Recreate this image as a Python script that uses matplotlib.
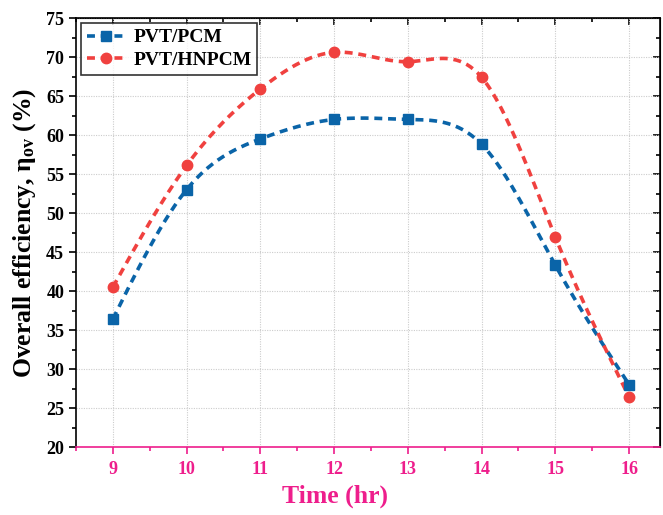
import numpy as np
import matplotlib
matplotlib.use("Agg")
import matplotlib.pyplot as plt
from matplotlib.ticker import MultipleLocator

plt.rcParams["font.family"] = ["Liberation Serif", "DejaVu Serif"]
plt.rcParams["font.weight"] = "bold"
plt.rcParams["mathtext.fontset"] = "custom"
plt.rcParams["mathtext.rm"] = "Liberation Serif:bold"
plt.rcParams["mathtext.it"] = "Liberation Serif:bold"

hours = [9, 10, 11, 12, 13, 14, 15, 16]
pvt_pcm = [36.4, 53.0, 59.5, 62.0, 62.0, 58.8, 43.3, 28.0]
pvt_hnpcm = [40.5, 56.1, 65.9, 70.6, 69.4, 67.4, 46.9, 26.4]

PINK = "#ee1e8c"
BLUE = "#0a64a8"
RED = "#f0413f"


def natural_spline(x, y, n=300):
    """Natural cubic spline through the points (smooth connector, like Origin)."""
    x = np.asarray(x, float)
    y = np.asarray(y, float)
    k = len(x)
    h = np.diff(x)
    A = np.zeros((k, k))
    b = np.zeros(k)
    A[0, 0] = A[-1, -1] = 1.0
    for i in range(1, k - 1):
        A[i, i - 1] = h[i - 1]
        A[i, i] = 2 * (h[i - 1] + h[i])
        A[i, i + 1] = h[i]
        b[i] = 3 * ((y[i + 1] - y[i]) / h[i] - (y[i] - y[i - 1]) / h[i - 1])
    c = np.linalg.solve(A, b)
    xs = np.linspace(x[0], x[-1], n)
    idx = np.clip(np.searchsorted(x, xs) - 1, 0, k - 2)
    dx = xs - x[idx]
    bb = (y[idx + 1] - y[idx]) / h[idx] - h[idx] * (2 * c[idx] + c[idx + 1]) / 3
    dd = (c[idx + 1] - c[idx]) / (3 * h[idx])
    ys = y[idx] + bb * dx + c[idx] * dx ** 2 + dd * dx ** 3
    return xs, ys


fig = plt.figure(figsize=(6.63, 5.15), dpi=100)
ax = fig.add_axes([0.1146, 0.132, 0.881, 0.833])

for vals, col, mk, lab in [(pvt_pcm, BLUE, "s", "PVT/PCM"),
                           (pvt_hnpcm, RED, "o", "PVT/HNPCM")]:
    xs, ys = natural_spline(hours, vals)
    ax.plot(xs, ys, color=col, lw=2.6, dashes=(2.2, 1.6), zorder=3)
    ax.plot(hours, vals, ls="none", marker=mk, color=col, ms=7.5, zorder=4)
    ax.plot([], [], color=col, lw=2.6, dashes=(2.2, 1.6), marker=mk, ms=7.5, label=lab)

ax.set_xlim(8.5, 16.42)
ax.set_ylim(20, 75)
ax.xaxis.set_major_locator(MultipleLocator(1))
ax.xaxis.set_minor_locator(MultipleLocator(0.5))
ax.yaxis.set_major_locator(MultipleLocator(5))
ax.yaxis.set_minor_locator(MultipleLocator(2.5))

ax.grid(True, which="major", color="#cccccc", ls=(0, (1, 1.2)), lw=0.8)
ax.set_axisbelow(True)

for s in ax.spines.values():
    s.set_linewidth(1.2)
ax.spines["bottom"].set_color(PINK)

ax.tick_params(axis="both", which="both", direction="out", width=1.2,
               top=False, right=False)
ax.tick_params(axis="both", which="major", length=5, labelsize=13)
ax.tick_params(axis="both", which="minor", length=3)
ax.tick_params(axis="x", which="both", colors=PINK)
ax.tick_params(axis="x", which="major", pad=5)

# mirrored ticks pointing inward on top/right
ax2 = ax.secondary_xaxis("top")
ax2.xaxis.set_major_locator(MultipleLocator(1))
ax2.xaxis.set_minor_locator(MultipleLocator(0.5))
ax2.tick_params(which="both", direction="in", width=1.2, labeltop=False)
ax2.tick_params(which="major", length=5)
ax2.tick_params(which="minor", length=3)
ax3 = ax.secondary_yaxis("right")
ax3.yaxis.set_major_locator(MultipleLocator(5))
ax3.yaxis.set_minor_locator(MultipleLocator(2.5))
ax3.tick_params(which="both", direction="in", width=1.2, labelright=False)
ax3.tick_params(which="major", length=5)
ax3.tick_params(which="minor", length=3)

for lbl in ax.get_xticklabels() + ax.get_yticklabels():
    lbl.set_fontweight("bold")

ax.set_xlabel("Time (hr)", fontsize=18.5, fontweight="bold", color=PINK)
ax.xaxis.set_label_coords(0.443, -0.088)
ax.set_ylabel(r"Overall efficiency, $\mathregular{\eta_{ov}}$ (%)",
              fontsize=18.5, fontweight="bold", labelpad=6)

leg = ax.legend(loc="upper left", fontsize=14, frameon=True, fancybox=False,
                edgecolor="black", borderaxespad=0.25, handlelength=2.0,
                handletextpad=0.4, borderpad=0.3, labelspacing=0.25)
leg.get_frame().set_linewidth(1.2)
for t in leg.get_texts():
    t.set_fontweight("bold")

fig.savefig("out.png", dpi=100)
